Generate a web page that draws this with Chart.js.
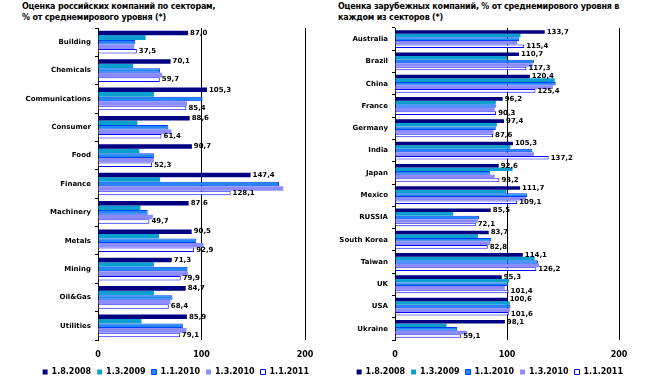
<!DOCTYPE html>
<html>
<head>
<meta charset="utf-8">
<script src="https://cdn.jsdelivr.net/npm/chart.js@4.4.1/dist/chart.umd.min.js"></script>
<style>
  html, body { margin: 0; padding: 0; background: #fff; }
  #wrap { position: relative; width: 650px; height: 382px; overflow: hidden; }
  .ttl { position: absolute; font: bold 8px "DejaVu Sans", Verdana, sans-serif; letter-spacing: -0.2px; line-height: 11px; color: #000; white-space: nowrap; }
  #c1 { position: absolute; left: 0; top: 0; }
  #c2 { position: absolute; left: 320px; top: 0; }
</style>
</head>
<body>
<div id="wrap">
  <div class="ttl" style="left:22px;top:1px;">Оценка российских компаний по секторам,<br>% от среднемирового уровня (*)</div>
  <div class="ttl" style="left:338px;top:1px;">Оценка зарубежных компаний, % от среднемирового уровня в<br>каждом из секторов (*)</div>
  <canvas id="c1" width="320" height="382"></canvas>
  <canvas id="c2" width="330" height="382"></canvas>
</div>
<script>
// ---- data ----
const seriesNames = ['1.8.2008', '1.3.2009', '1.1.2010', '1.3.2010', '1.1.2011'];

const sectorsRu = ['Building', 'Chemicals', 'Communications', 'Consumer', 'Food', 'Finance', 'Machinery', 'Metals', 'Mining', 'Oil&Gas', 'Utilities'];
const ru_2008_08 = [87.0, 70.1, 105.3, 88.6, 90.7, 147.4, 87.6, 90.5, 71.3, 84.7, 85.9];
const ru_2009_03 = [46, 34, 54, 38, 40, 60, 41, 59, 54, 54, 42];
const ru_2010_01 = [36, 60, 101, 68, 54, 175, 48, 95, 86.5, 72, 82];
const ru_2010_03 = [35, 62, 86, 71, 54, 179, 53, 102, 87, 70, 85.5];
const ru_2011_01 = [37.5, 59.7, 85.4, 61.4, 52.3, 128.1, 49.7, 92.9, 79.9, 68.4, 79.1];

const countries = ['Australia', 'Brazil', 'China', 'France', 'Germany', 'India', 'Japan', 'Mexico', 'RUSSIA', 'South Korea', 'Taiwan', 'UK', 'USA', 'Ukraine'];
const fo_2008_08 = [133.7, 110.7, 120.4, 96.2, 97.4, 105.3, 92.6, 111.7, 85.5, 83.7, 114.1, 95.3, 100.6, 98.1];
const fo_2009_03 = [112, 100, 142.6, 90, 91, 103, 105, 99.5, 52, 74, 124.7, 102, 102.5, 46];
const fo_2010_01 = [111, 124, 143.5, 90, 90, 122.7, 84.7, 118, 75, 86, 127.7, 101, 103, 55.5];
const fo_2010_03 = [109, 123, 141, 89, 88, 124, 89, 117, 74, 85, 128.6, 98, 102.5, 64.4];
const fo_2011_01 = [115.4, 117.3, 125.4, 90.3, 87.6, 137.2, 93.2, 109.1, 72.1, 82.8, 126.2, 101.4, 101.6, 59.1];

const xTicks = [0, 100, 200];

// ---- styles ----
const FONT = '"DejaVu Sans", Verdana, sans-serif';
const fills = ['#000080', '#0A9FCF', '#2088F8', '#8C8CFF', '#FFFFFF'];
const borders = ['#000080', '#0A7FA8', '#0040FF', '#8C8CFF', '#0000FF'];

function makeDatasets(arrs) {
  return arrs.map((d, i) => ({
    label: seriesNames[i],
    data: d,
    backgroundColor: fills[i],
    borderColor: borders[i],
    borderWidth: (i === 4 || i === 2) ? 1 : 0,
    categoryPercentage: 0.8,
    barPercentage: 1.0
  }));
}

const valueLabels = {
  id: 'valueLabels',
  afterDatasetsDraw(chart) {
    const ctx = chart.ctx;
    ctx.save();
    ctx.font = 'bold 7px ' + FONT;
    ctx.fillStyle = '#000';
    ctx.textBaseline = 'middle';
    ctx.textAlign = 'left';
    [0, 4].forEach(di => {
      const meta = chart.getDatasetMeta(di);
      meta.data.forEach((bar, i) => {
        const v = chart.data.datasets[di].data[i];
        ctx.fillText(v.toFixed(1).replace('.', ','), bar.x + 2, bar.y);
      });
    });
    ctx.restore();
  }
};

function legendShift(dx, dy) {
  return {
    id: 'legendShift',
    afterLayout(chart) {
      if (chart.legend) {
        chart.legend.left += dx; chart.legend.right += dx;
        chart.legend.top += dy; chart.legend.bottom += dy;
      }
    }
  };
}

function makeChart(canvas, labels, arrs, yWidth, rightPad, dx) {
  return new Chart(canvas, {
    type: 'bar',
    data: { labels: labels, datasets: makeDatasets(arrs) },
    plugins: [valueLabels, legendShift(dx, 4)],
    options: {
      indexAxis: 'y',
      responsive: false,
      animation: false,
      devicePixelRatio: 1,
      layout: { padding: { top: 28, right: rightPad, left: 0, bottom: 0 } },
      plugins: {
        legend: {
          position: 'bottom',
          align: 'end',
          labels: {
            font: { family: FONT, size: 8, weight: 'bold' },
            color: '#000',
            boxWidth: 5,
            boxHeight: 5,
            padding: 6,
            usePointStyle: false
          }
        },
        tooltip: { enabled: false },
        title: { display: false }
      },
      scales: {
        x: {
          min: 0, max: 200,
          afterBuildTicks: (axis) => { axis.ticks = xTicks.map(v => ({ value: v })); },
          ticks: { font: { family: FONT, size: 8, weight: 'bold' }, color: '#000', padding: 10, maxRotation: 0 },
          grid: { color: (c) => c.tick && c.tick.value === 0 ? 'rgba(0,0,0,0)' : '#000', lineWidth: 1, drawTicks: false },
          border: { display: false },
          afterFit: (axis) => { axis.height = 18; axis.paddingLeft = 0; axis.paddingRight = 0; }
        },
        y: {
          ticks: { font: { family: FONT, size: 7, weight: 'bold' }, color: '#000', padding: 4, autoSkip: false },
          grid: { drawOnChartArea: false, drawTicks: true, tickLength: 3, color: '#000', offset: true },
          border: { display: true, color: '#000', width: 1 },
          afterFit: (axis) => { axis.width = yWidth; }
        }
      }
    }
  });
}

makeChart(document.getElementById('c1'), sectorsRu,
  [ru_2008_08, ru_2009_03, ru_2010_01, ru_2010_03, ru_2011_01], 98, 15, 10);
makeChart(document.getElementById('c2'), countries,
  [fo_2008_08, fo_2009_03, fo_2010_01, fo_2010_03, fo_2011_01], 75, 31, 10);
</script>
</body>
</html>
